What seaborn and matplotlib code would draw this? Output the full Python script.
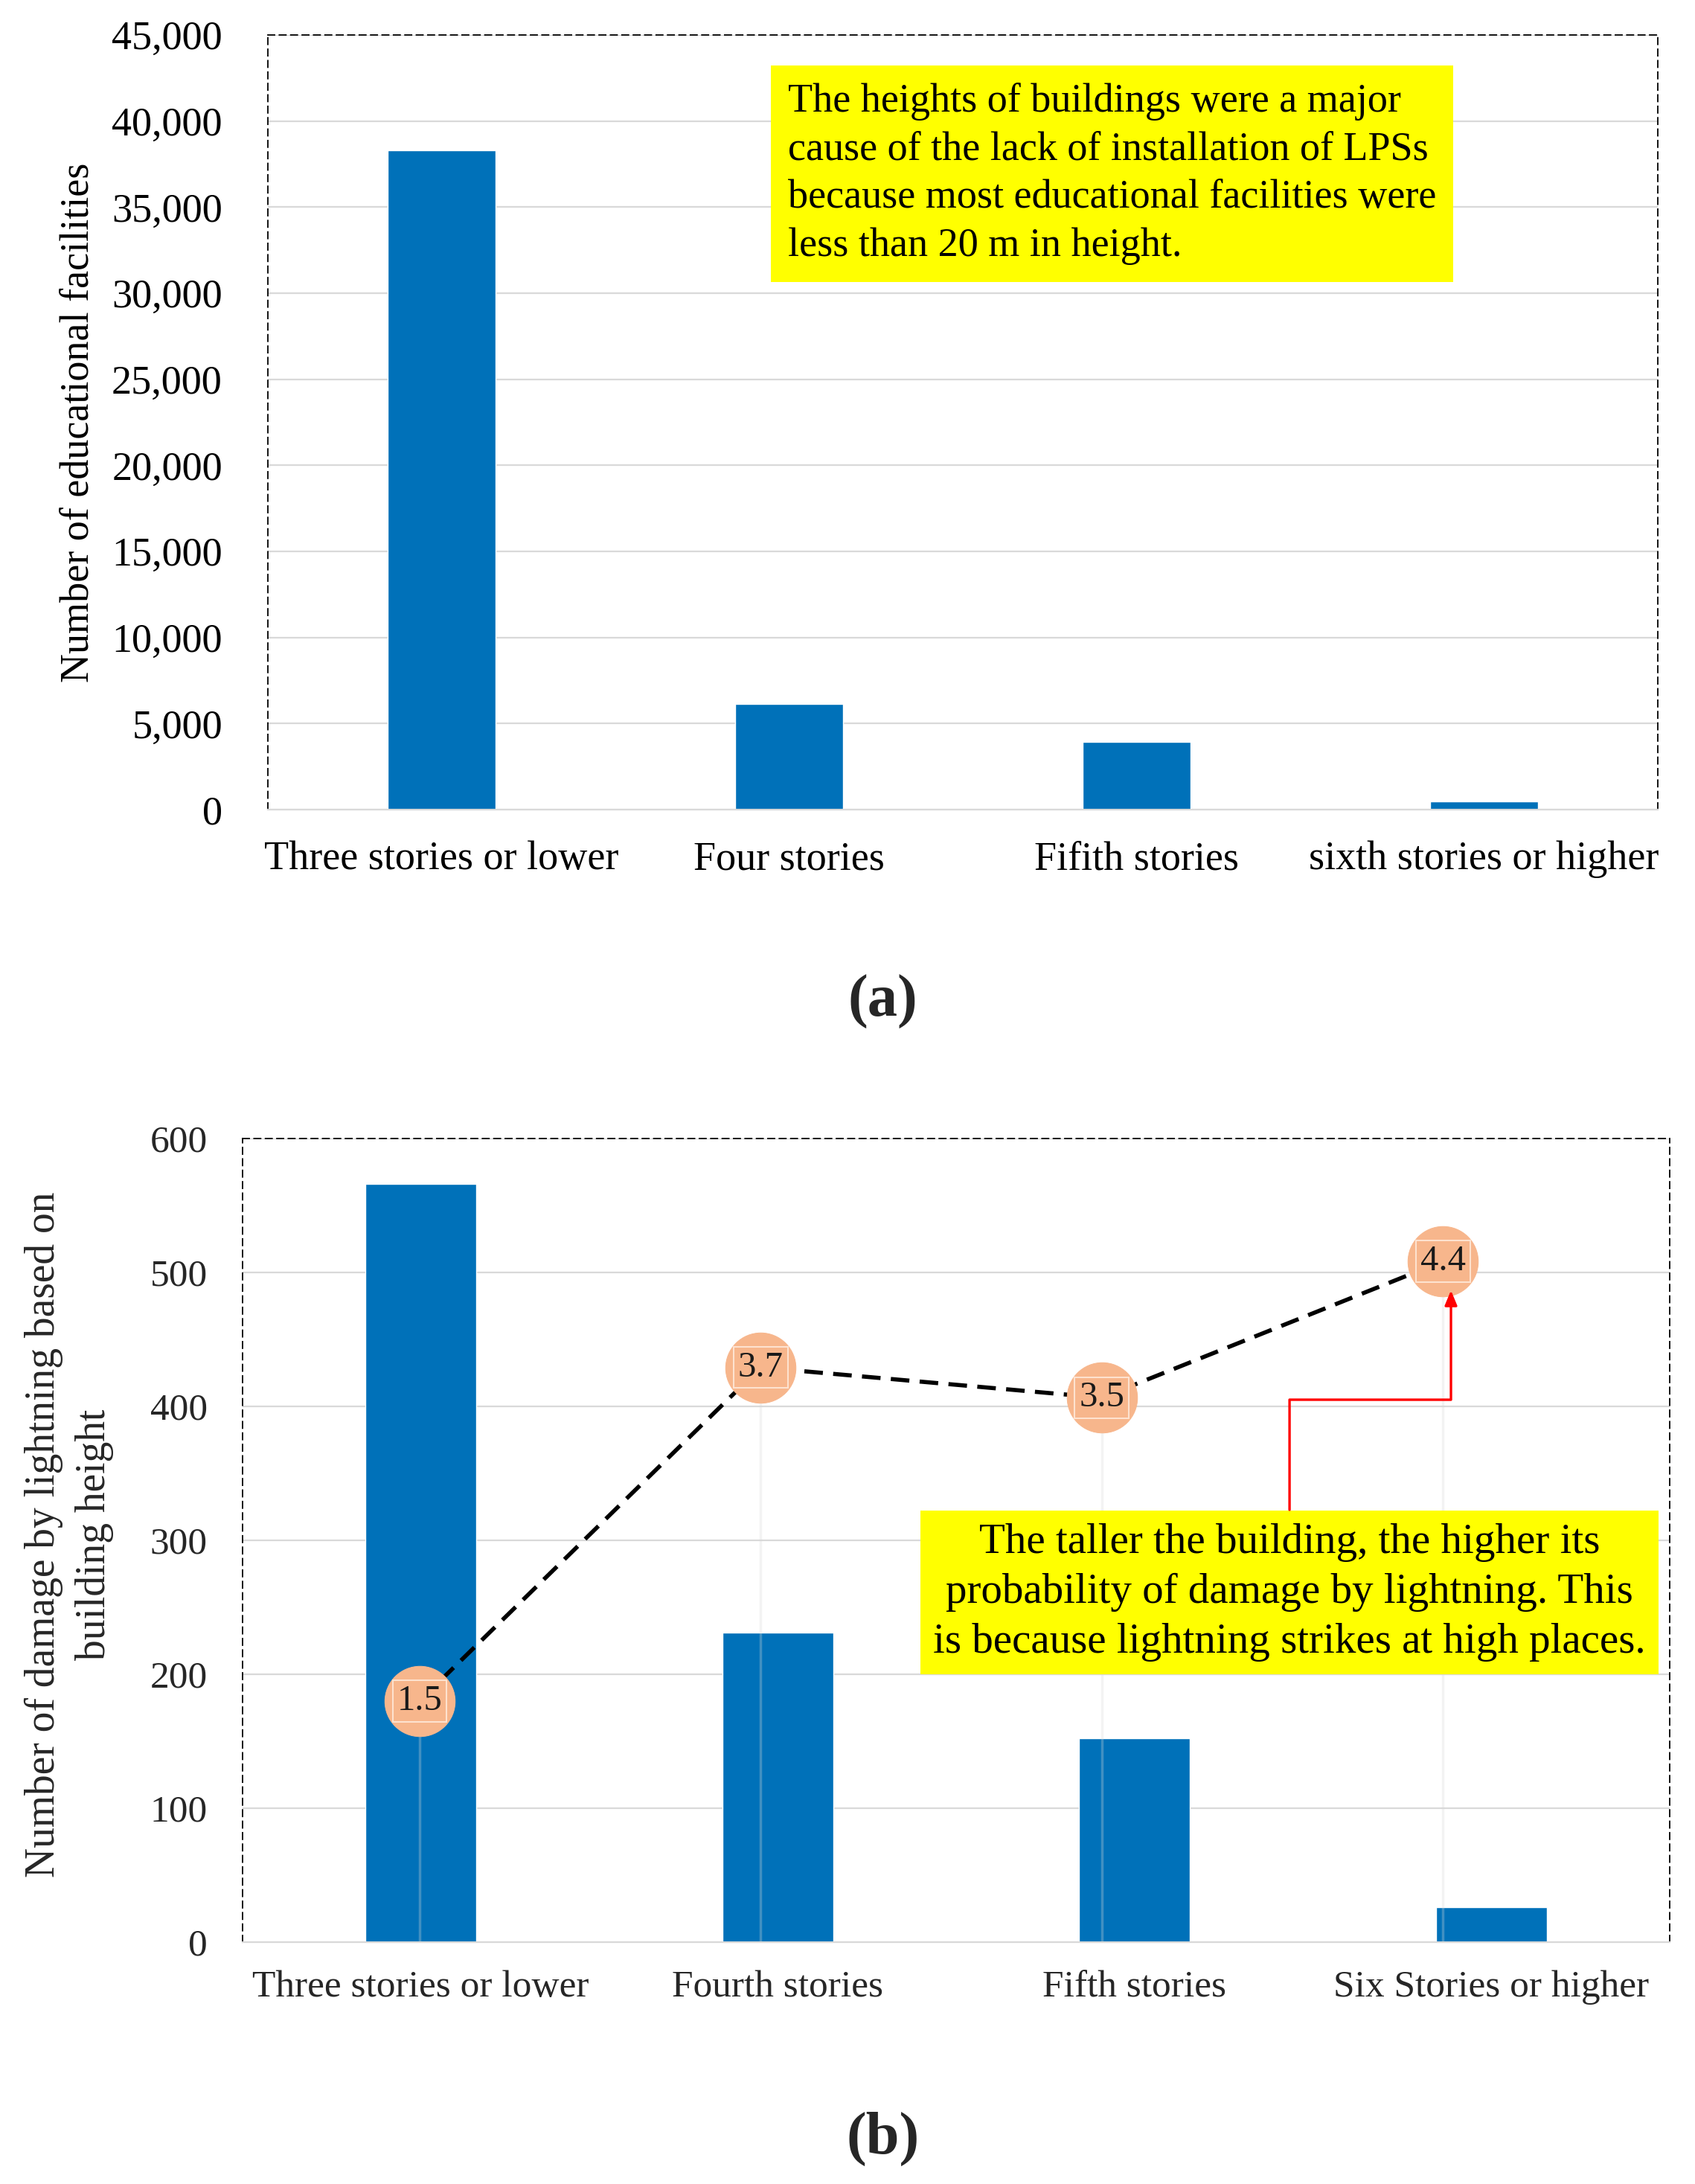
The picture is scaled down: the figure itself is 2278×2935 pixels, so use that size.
import matplotlib
matplotlib.use("Agg")
import matplotlib.pyplot as plt
import seaborn as sns
from matplotlib.ticker import FuncFormatter

# Datos panel (a)
cats_a = ["Three stories or lower", "Four stories", "Fifith stories", "sixth stories or higher"]
facilities = [38300, 6150, 3950, 470]

# Datos panel (b)
cats_b = ["Three stories or lower", "Fourth stories", "Fifth stories", "Six Stories or higher"]
damage = [566, 231, 152, 26]
rates = [1.5, 3.7, 3.5, 4.4]

note_a = ("The heights of buildings were a major\n"
          "cause of the lack of installation of LPSs\n"
          "because most educational facilities were\n"
          "less than 20 m in height.")
note_b = ("The taller the building, the higher its\n"
          "probability of damage by lightning. This\n"
          "is because lightning strikes at high places.")

sns.set_theme(style="white")
plt.rcParams["font.family"] = ["Liberation Serif", "DejaVu Serif"]

BLUE = "#0071b9"
GRID = "#d9d9d9"
PEACH = "#f7b68c"

fig = plt.figure(figsize=(22.78, 29.35), dpi=100)


def estilo_ejes(ax, fs, ypad, xpad, tcolor):
    ax.set_axisbelow(True)
    ax.yaxis.grid(True, color=GRID, lw=1.6)
    ax.xaxis.grid(False)
    for s in ["top", "left", "right"]:
        ax.spines[s].set_visible(True)
        ax.spines[s].set_color("black")
        ax.spines[s].set_linewidth(1.3)
        ax.spines[s].set_linestyle((0, (5, 3.5)))
    ax.spines["bottom"].set_color(GRID)
    ax.spines["bottom"].set_linewidth(1.6)
    ax.tick_params(axis="y", length=0, pad=ypad, labelsize=fs, labelcolor=tcolor)
    ax.tick_params(axis="x", length=0, pad=xpad, labelsize=fs, labelcolor=tcolor)
    ax.set_xlabel("")


# Panel (a)
ax1 = fig.add_axes([0.158, 0.6293, 0.820, 0.3547])
sns.barplot(x=cats_a, y=facilities, ax=ax1, color=BLUE, saturation=1, width=0.31)
ax1.set_xlim(-0.5, 3.5)
ax1.set_ylim(0, 45000)
ax1.set_yticks(range(0, 45001, 5000))
ax1.yaxis.set_major_formatter(FuncFormatter(lambda v, p: f"{int(v):,}"))
estilo_ejes(ax1, 39, 44, 30, "black")
ax1.set_ylabel("Number of educational facilities", fontsize=39, color="black")
ax1.yaxis.set_label_coords(-0.123, 0.5)
ax1.text(0.374, 0.821, note_a, transform=ax1.transAxes, ha="left", va="center",
         fontsize=39, color="black", linespacing=1.37,
         bbox=dict(boxstyle="square,pad=0.42", fc="#ffff00", ec="none"))

fig.text(0.521, 0.5414, "(a)", ha="center", va="center", fontsize=58, fontweight="bold")

# Panel (b)
rect_b = [0.1431, 0.1107, 0.842, 0.368]
ax2 = fig.add_axes(rect_b)
sns.barplot(x=cats_b, y=damage, ax=ax2, color=BLUE, saturation=1, width=0.31)
ax2.set_xlim(-0.5, 3.5)
ax2.set_ylim(0, 600)
ax2.set_yticks(range(0, 601, 100))
estilo_ejes(ax2, 37, 34, 27, "#262626")
ax2.set_ylabel("Number of damage by lightning based on\nbuilding height", fontsize=40,
               color="#262626", multialignment="center", linespacing=1.42)
ax2.yaxis.set_label_coords(-0.09, 0.507)

# Serie de la tasa sobre ejes superpuestos (eje secundario oculto)
ax3 = fig.add_axes(rect_b)
ax3.patch.set_visible(False)
xpos = list(range(len(rates)))
ax3.set_xlim(-0.519, 3.665)
ax3.set_ylim(-0.092, 5.21)
ax3.vlines(xpos, -0.092, rates, color="#d8d8d8", lw=2.5, alpha=0.3, zorder=1)
sns.lineplot(x=xpos, y=rates, ax=ax3, color="black", lw=4,
             linestyle=(0, (4.5, 2.5)), marker="o", markersize=68,
             markerfacecolor=PEACH, markeredgecolor=PEACH, zorder=3)
for xi, r in zip(xpos, rates):
    ax3.text(xi, r, f"{r}", ha="center", va="center", fontsize=35, color="#1a1a1a", zorder=4,
             bbox=dict(boxstyle="square,pad=0.12", fc=PEACH, ec="#fde2cf", lw=1.5))
ax3.axis("off")

ax3.text(0.7336, 0.435, note_b, transform=ax3.transAxes, ha="center", va="center",
         fontsize=41, color="black", linespacing=1.37, zorder=5,
         bbox=dict(boxstyle="square,pad=0.3", fc="#ffff00", ec="none"))

# Flecha roja de la nota hacia el ultimo punto (brazos en pixeles)
alto = 1080
armA = (0.675 - 0.538) * alto
armB = (0.811 - 0.675) * alto
ax3.annotate("", xy=(0.8467, 0.811), xytext=(0.7336, 0.538),
             xycoords="axes fraction", textcoords="axes fraction", zorder=5,
             arrowprops=dict(arrowstyle="-|>,head_length=0.6,head_width=0.25",
                             mutation_scale=20, color="#ff0000", lw=2.4,
                             shrinkA=0, shrinkB=0,
                             connectionstyle=f"arc,angleA=90,angleB=-90,armA={armA:.1f},armB={armB:.1f},rad=0"))

fig.text(0.521, 0.0208, "(b)", ha="center", va="center", fontsize=58, fontweight="bold")

plt.savefig("out.png", dpi=100)
plt.close()
